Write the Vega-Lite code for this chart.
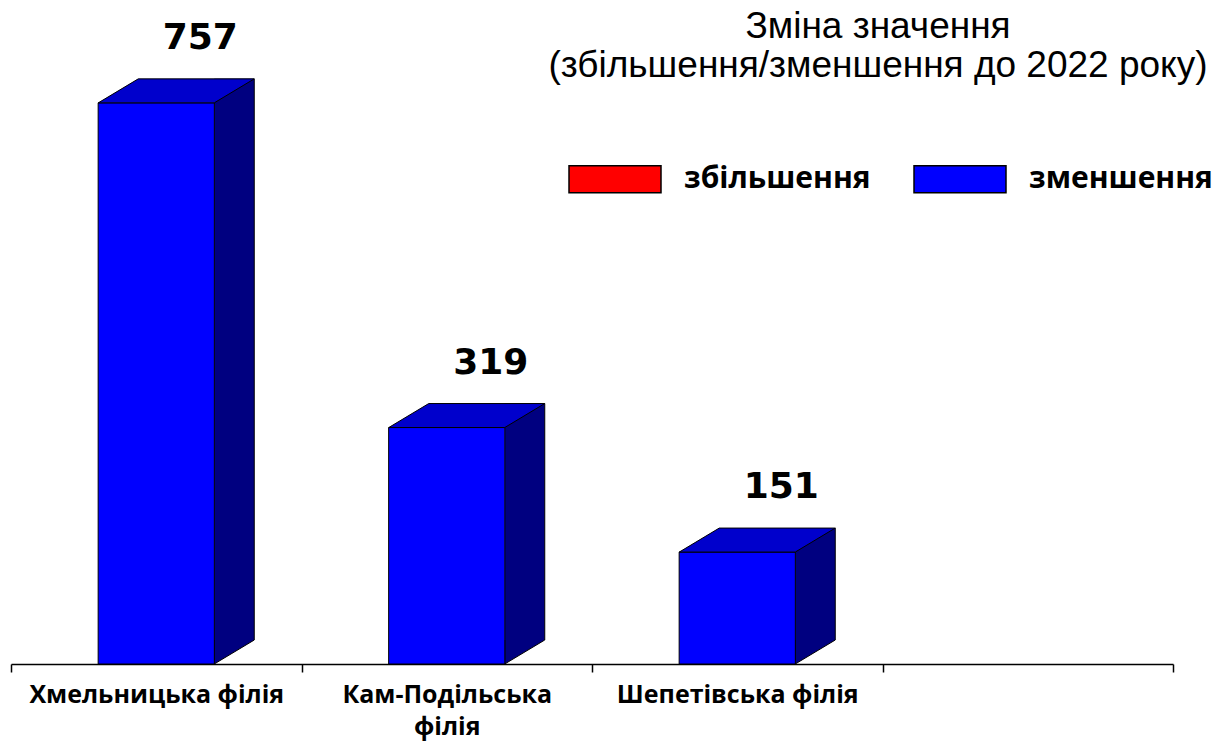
{
  "$schema": "https://vega.github.io/schema/vega-lite/v6.json",
  "autosize": "none",
  "width": 1162,
  "height": 593,
  "padding": {"left": 11, "top": 71, "right": 44, "bottom": 81},
  "background": "white",
  "config": {"view": {"stroke": null}},
  "title": {
    "text": ["Зміна значення", "(збільшення/зменшення до 2022 року)"],
    "font": "Liberation Sans",
    "fontSize": 37,
    "fontWeight": "normal",
    "color": "black",
    "anchor": "start",
    "align": "center",
    "baseline": "top",
    "frame": "group",
    "lineHeight": 39,
    "dx": 867,
    "offset": -65
  },
  "data": {
    "values": [
      {"branch": "Хмельницька філія", "value": 757, "change": "зменшення"},
      {"branch": "Кам-Подільська філія", "value": 319, "change": "зменшення"},
      {"branch": "Шепетівська філія", "value": 151, "change": "зменшення"}
    ]
  },
  "encoding": {
    "x": {
      "field": "branch",
      "type": "nominal",
      "sort": null,
      "scale": {"domain": ["Хмельницька філія", "Кам-Подільська філія", "Шепетівська філія", " "], "paddingInner": 0, "paddingOuter": 0},
      "axis": {
        "title": null,
        "labelAngle": 0,
        "labelFont": "Open Sans",
        "labelFontWeight": "bold",
        "labelFontSize": 25,
        "labelColor": "black",
        "labelLimit": 400,
        "labelLineHeight": 32,
        "labelPadding": 10,
        "labelExpr": "datum.value === 'Кам-Подільська філія' ? ['Кам-Подільська', 'філія'] : datum.label",
        "tickBand": "extent",
        "tickSize": 8,
        "tickColor": "black",
        "tickWidth": 1.5,
        "domainColor": "black",
        "domainWidth": 1.5,
        "grid": false
      }
    }
  },
  "layer": [
    {
      "mark": {"type": "bar", "color": "#000080", "width": 40, "xOffset": 78, "yOffset": -24, "y2Offset": -24},
      "encoding": {
        "y": {"field": "value", "type": "quantitative", "scale": {"domain": [0, 800], "nice": false}, "axis": null},
        "y2": {"datum": 0}
      }
    },
    {
      "mark": {"type": "point", "shape": "M58,-24L58,0L98,-24", "size": 4, "filled": true, "fill": "#000080", "stroke": "black", "strokeWidth": 1, "opacity": 1},
      "encoding": {
        "y": {"datum": 0, "type": "quantitative"}
      }
    },
    {
      "mark": {"type": "bar", "width": {"band": 0.4}, "stroke": "black", "strokeWidth": 1},
      "encoding": {
        "y": {"field": "value", "type": "quantitative"},
        "y2": {"datum": 0},
        "color": {
          "field": "change",
          "type": "nominal",
          "scale": {"domain": ["збільшення", "зменшення"], "range": ["#FF0000", "#0000FF"]},
          "legend": {
            "orient": "none",
            "direction": "horizontal",
            "legendX": 557,
            "legendY": 61,
            "title": null,
            "padding": 0,
            "symbolType": "M-1,-0.2935L1,-0.2935L1,0.2935L-1,0.2935Z",
            "symbolSize": 8464,
            "symbolStrokeColor": "black",
            "symbolStrokeWidth": 1.5,
            "symbolOpacity": 1,
            "labelFont": "Open Sans",
            "labelFontWeight": "bold",
            "labelFontSize": 30,
            "labelColor": "black",
            "labelOffset": 22,
            "labelLimit": 400,
            "columnPadding": 40
          }
        }
      }
    },
    {
      "mark": {"type": "point", "shape": "M-58,0L58,0L98,-24L-18,-24Z", "size": 4, "filled": true, "fill": "#0000CC", "stroke": "black", "strokeWidth": 1, "opacity": 1},
      "encoding": {
        "y": {"field": "value", "type": "quantitative"}
      }
    },
    {
      "mark": {"type": "rule", "color": "black", "strokeWidth": 1, "xOffset": 98, "yOffset": -24, "y2Offset": -24},
      "encoding": {
        "y": {"field": "value", "type": "quantitative"},
        "y2": {"datum": 0}
      }
    },
    {
      "mark": {"type": "text", "font": "DejaVu Sans", "fontWeight": "bold", "fontSize": 36, "color": "black", "align": "center", "baseline": "middle", "dx": 44, "dy": -65},
      "encoding": {
        "y": {"field": "value", "type": "quantitative"},
        "text": {"field": "value", "type": "quantitative"}
      }
    }
  ]
}
